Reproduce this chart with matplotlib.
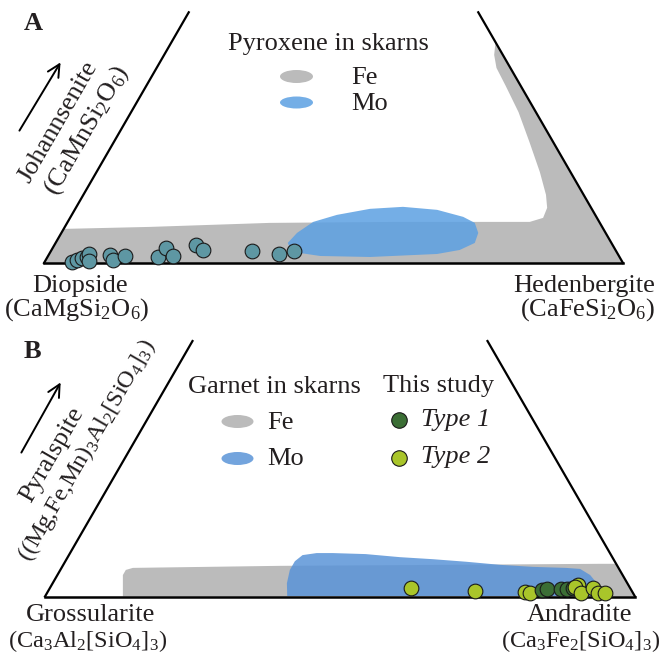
import numpy as np
import matplotlib
matplotlib.use("Agg")
import matplotlib.pyplot as plt
from matplotlib.patches import Polygon, Ellipse

plt.rcParams["font.family"] = "Liberation Serif"
plt.rcParams["mathtext.fontset"] = "custom"
plt.rcParams["mathtext.rm"] = "Liberation Serif"
plt.rcParams["mathtext.it"] = "Liberation Serif:italic"
plt.rcParams["mathtext.bf"] = "Liberation Serif:bold"

# ---- data (mol %) ----
APEX_MAX = 50  # both diagrams are cut at 50 % of the apex end-member

# Pyroxene: Di - Hd - Jo  (Hd = right corner, Jo = apex)
px_fe_hd = [0, 0, 14.7, 35.0, 57.4, 79.8, 81.7, 81.4, 79.9, 76.6, 71.8, 66.9,
            62.1, 58.7, 57.0, 56.1, 55.9, 100]
px_fe_jo = [0, 6.8, 7.2, 8.0, 8.2, 8.2, 9.0, 11.0, 13.6, 18.1, 24.1, 30.1,
            35.3, 38.9, 41.5, 43.7, 44.1, 0]
px_mo_hd = [40.1, 40.7, 42.4, 45.8, 50.9, 56.4, 62.6, 67.8, 70.4, 72.0, 72.4,
            70.5, 67.0, 55.7, 47.0, 43.2, 41.0]
px_mo_jo = [4.0, 6.0, 8.2, 9.6, 10.8, 11.2, 10.6, 9.2, 8.0, 6.0, 4.0,
            2.6, 1.8, 1.2, 1.4, 2.0, 3.0]
px_hd = [4.7, 5.4, 6.1, 6.8, 6.9, 7.6, 10.6, 11.6, 13.3, 19.1, 19.6, 21.6,
         24.5, 26.2, 34.7, 39.7, 42.0]
px_jo = [0.2, 0.6, 1.0, 1.2, 1.8, 0.4, 1.6, 0.6, 1.4, 1.2, 3.0, 1.4,
         3.6, 2.6, 2.4, 1.8, 2.4]

# Garnet: Gro - Adr - Pyralspite  (Adr = right corner, Pyr = apex)
grt_fe_adr = [13.2, 11.1, 11.1, 12.1, 36.8, 65.5, 90.9, 93.6, 100]
grt_fe_pyr = [0, 4.2, 5.2, 5.6, 6.0, 6.2, 6.4, 6.4, 0]
grt_mo_adr = [41.0, 39.7, 38.9, 38.9, 39.6, 41.8, 44.5, 50.2, 56.3, 62.1, 68.0,
              74.0, 79.8, 85.5, 88.0, 90.3, 92.0, 93.5, 94.1]
grt_mo_pyr = [0.1, 2.6, 5.2, 6.9, 8.1, 8.5, 8.5, 8.3, 7.7, 7.3, 6.8,
              6.2, 5.8, 5.6, 5.4, 4.2, 2.8, 1.3, 0.1]
type1_adr = [83.6, 84.4, 86.7, 87.8, 88.6]
type1_pyr = [1.3, 1.5, 1.5, 1.5, 1.7]
type2_adr = [61.2, 72.4, 80.9, 81.9, 89.2, 88.9, 90.5, 92.0, 93.4, 94.6]
type2_pyr = [1.7, 1.1, 0.9, 0.7, 2.3, 1.9, 0.7, 1.7, 0.7, 0.7]

# ---- style ----
TEXT = "#231f20"
FS = 19
FS_FORMULA = 17.5
GRAY = "#bbbbbb"
BLUE_A = "#5ca0e2"
BLUE_B = "#5a94d8"
TEAL = "#5e97a3"
GREEN1 = "#3b6e35"
GREEN2 = "#a9c52a"
W, H = 666, 657


def tern(right, apex):
    r = np.asarray(right, dtype=float) / 100
    a = np.asarray(apex, dtype=float) / 100
    return r + a / 2, a * np.sqrt(3) / 2


def frame(ax):
    xl, yl = tern([0, 0], [0, APEX_MAX])
    ax.plot(xl, yl, color="black", lw=1.6, zorder=3)
    xr, yr = tern([100, 100 - APEX_MAX], [0, APEX_MAX])
    ax.plot(xr, yr, color="black", lw=1.6, zorder=3)
    ax.plot([0, 1], [0, 0], color="black", lw=1.8, zorder=3)


def field(ax, right, apex, color, alpha=1.0, z=1):
    x, y = tern(right, apex)
    ax.add_patch(Polygon(np.column_stack([x, y]), closed=True, facecolor=color,
                         edgecolor="none", alpha=alpha, zorder=z))


fig = plt.figure(figsize=(W / 100, H / 100), dpi=100)

# canvas in pixel units for labels and legends
cv = fig.add_axes([0, 0, 1, 1])
cv.set_xlim(0, W)
cv.set_ylim(H, 0)
cv.axis("off")

# ---- A: pyroxene ----
axA = fig.add_axes([0, 327 / H, 1, 330 / H])
axA.set_xlim(-44 / 579, 622 / 579)
axA.set_ylim(-67 / 579, 263 / 579)
axA.axis("off")
field(axA, px_fe_hd, px_fe_jo, GRAY)
field(axA, px_mo_hd, px_mo_jo, BLUE_A, alpha=0.85, z=2)
frame(axA)
x, y = tern(px_hd, px_jo)
axA.scatter(x, y, s=112, color=TEAL, edgecolor="#1a1a1a", lw=0.8, zorder=5, clip_on=False)

# ---- B: garnet ----
axB = fig.add_axes([0, 0, 1, 327 / H])
axB.set_xlim(-45 / 590, 621 / 590)
axB.set_ylim(-60.5 / 590, 266.5 / 590)
axB.axis("off")
field(axB, grt_fe_adr, grt_fe_pyr, GRAY)
field(axB, grt_mo_adr, grt_mo_pyr, BLUE_B, alpha=0.85, z=2)
frame(axB)
t2_adr = np.array(type2_adr)
t2_pyr = np.array(type2_pyr)
back = t2_adr < 85
x, y = tern(t2_adr[back], t2_pyr[back])
axB.scatter(x, y, s=112, color=GREEN2, edgecolor="#1a1a1a", lw=0.8, zorder=4, clip_on=False)
x, y = tern(type1_adr, type1_pyr)
axB.scatter(x, y, s=112, color=GREEN1, edgecolor="#1a1a1a", lw=0.8, zorder=5, clip_on=False)
x, y = tern(t2_adr[~back], t2_pyr[~back])
axB.scatter(x, y, s=112, color=GREEN2, edgecolor="#1a1a1a", lw=0.8, zorder=6, clip_on=False)

# ---- labels ----
kw = dict(color=TEXT, fontsize=FS)
fk = dict(color=TEXT, fontsize=FS_FORMULA)
cv.text(24, 30, "A", fontweight="bold", **kw)
cv.text(24, 358, "B", fontweight="bold", **kw)

cv.text(80, 292, "Diopside", ha="center", **kw)
cv.text(77, 316, r"(CaMgSi$_2$O$_6$)", ha="center", **kw)
cv.text(655, 292, "Hedenbergite", ha="right", **kw)
cv.text(655, 316, r"(CaFeSi$_2$O$_6$)", ha="right", **kw)
cv.text(91, 621, "Grossularite", ha="center", **kw)
cv.text(88, 647, r"(Ca$_3$Al$_2$[SiO$_4$]$_3$)", ha="center", **fk)
cv.text(579, 621, "Andradite", ha="center", **kw)
cv.text(581, 647, r"(Ca$_3$Fe$_2$[SiO$_4$]$_3$)", ha="center", **fk)

rot = dict(rotation=60, rotation_mode="anchor", ha="center", va="center")
cv.text(58, 122, "Johannsenite", **rot, **kw)
cv.text(87, 130, r"(CaMnSi$_2$O$_6$)", **rot, **kw)
cv.text(52, 455, "Pyralspite", **rot, **kw)
cv.text(87, 450, r"((Mg,Fe,Mn)$_3$Al$_2$[SiO$_4$]$_3$)", **rot, **fk)

arrow = dict(arrowstyle="->", lw=1.4, color="black", mutation_scale=22)
cv.annotate("", xy=(62, 60), xytext=(18, 133), arrowprops=arrow)
cv.annotate("", xy=(62, 380), xytext=(20, 455), arrowprops=arrow)

# ---- legends ----
cv.text(328, 50, "Pyroxene in skarns", ha="center", **kw)
cv.add_patch(Ellipse((296.5, 76.5), 33, 13, facecolor=GRAY, edgecolor="none"))
cv.add_patch(Ellipse((296.5, 102.5), 33, 12, facecolor=BLUE_A, alpha=0.85, edgecolor="none"))
cv.text(351, 84, "Fe", **kw)
cv.text(351, 110, "Mo", **kw)

cv.text(188, 393, "Garnet in skarns", **kw)
cv.add_patch(Ellipse((237.5, 421.5), 32, 13, facecolor=GRAY, edgecolor="none"))
cv.add_patch(Ellipse((237.5, 458.5), 32, 13, facecolor=BLUE_B, alpha=0.85, edgecolor="none"))
cv.text(267, 429, "Fe", **kw)
cv.text(267, 465, "Mo", **kw)

cv.text(383, 392, "This study", **kw)
cv.scatter([399], [420], s=125, color=GREEN1, edgecolor="#1a1a1a", lw=0.8)
cv.scatter([399], [458], s=125, color=GREEN2, edgecolor="#1a1a1a", lw=0.8)
cv.text(421, 426, "Type 1", fontstyle="italic", **kw)
cv.text(421, 463, "Type 2", fontstyle="italic", **kw)

fig.savefig("out.png", dpi=100)
